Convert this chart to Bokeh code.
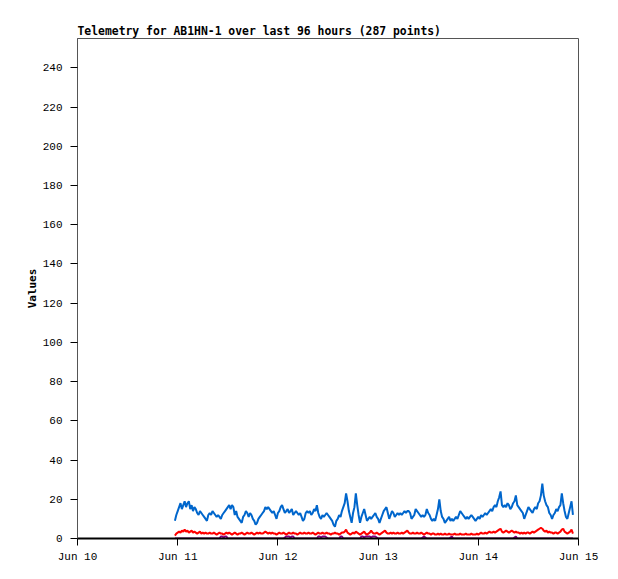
from datetime import datetime, timedelta
from bokeh.plotting import figure
from bokeh.models import FixedTicker, DatetimeTickFormatter, Range1d
from bokeh.embed import file_html
from bokeh.resources import INLINE

title_text = "Telemetry for AB1HN-1 over last 96 hours (287 points)"
y_label = "Values"
start_time = datetime(2024, 6, 10, 23, 20)
step_minutes = 20
n_points = 287

blue_values = [
    9, 12, 14, 16, 18, 15, 17, 19, 16, 18, 19, 15,
    17, 14, 16, 15, 13, 12, 14, 13, 12, 11, 10, 9,
    12, 13, 12, 14, 13, 12, 11, 12, 11, 10, 12, 13,
    14, 15, 16, 17, 15, 17, 16, 12, 14, 11, 10, 9,
    8, 11, 12, 14, 13, 11, 13, 12, 10, 9, 7, 8,
    10, 11, 12, 13, 14, 16, 15, 16, 15, 14, 13, 14,
    12, 10, 13, 14, 16, 17, 15, 13, 14, 15, 13, 14,
    15, 12, 13, 14, 13, 12, 13, 11, 9, 10, 13, 14,
    13, 14, 12, 13, 15, 14, 17, 13, 11, 10, 12, 11,
    12, 13, 12, 11, 10, 9, 7, 6, 9, 10, 12, 11,
    14, 16, 18, 23, 19, 14, 11, 8, 13, 16, 23, 17,
    12, 8, 11, 13, 15, 12, 9, 10, 11, 10, 11, 12,
    13, 11, 10, 8, 10, 12, 14, 15, 16, 13, 10, 12,
    14, 13, 11, 12, 13, 12, 13, 12, 13, 14, 13, 14,
    14, 13, 10, 11, 12, 15, 14, 13, 12, 11, 12, 11,
    12, 15, 13, 12, 10, 9, 10, 9, 12, 15, 20, 14,
    11, 10, 8, 9, 10, 11, 9, 10, 9, 10, 11, 10,
    12, 14, 13, 12, 11, 10, 11, 10, 11, 12, 11, 10,
    9, 10, 11, 10, 12, 11, 12, 13, 12, 13, 14, 15,
    14, 16, 17, 16, 19, 21, 24, 17, 16, 17, 16, 18,
    17, 15, 16, 18, 19, 22, 17, 16, 15, 14, 13, 10,
    12, 14, 16, 15, 14, 13, 15, 16, 15, 18, 19, 22,
    28, 22, 19, 17, 16, 13, 12, 10, 12, 13, 15, 14,
    16, 17, 23, 18, 14, 11, 10, 13, 16, 19, 12,
]

red_values = [
    1.5, 2.5, 3, 3.5, 3, 4, 3.5, 4.5, 3.5, 4, 3, 3.5,
    4, 3, 3.5, 3, 2.5, 3, 3.5, 2.5, 3, 2.5, 3, 2.5,
    2.5, 3, 2.5, 2.5, 3, 2.5, 2, 2.5, 3, 2.5, 2.5, 2,
    2.5, 3, 2.5, 3, 2.5, 2, 2.5, 3, 2.5, 2, 2.5, 2.5,
    3, 2.5, 2, 2.5, 3, 2.5, 2.5, 3, 2.5, 2, 2.5, 3,
    2.5, 3, 2.5, 2.5, 3, 3.5, 3, 2.5, 3, 2.5, 3, 2.5,
    2.5, 2, 2.5, 3, 2.5, 2.5, 3, 2.5, 2, 2.5, 3, 2.5,
    2.5, 3, 2.5, 2.5, 2, 2.5, 3, 2.5, 2.5, 3, 2.5, 2.5,
    3, 2.5, 2.5, 3, 2.5, 2, 2.5, 3, 2.5, 2.5, 3, 2.5,
    2.5, 3, 2.5, 2.5, 2, 2.5, 2.5, 3, 2.5, 2.5, 2, 2.5,
    3, 3, 3.5, 4.5, 3, 2.5, 2, 2.5, 3, 2.5, 3.5, 3,
    2.5, 2, 2.5, 3, 3.5, 2.5, 2, 2.5, 3, 4, 3, 2.5,
    2.5, 3, 2.5, 2, 2.5, 3, 3.5, 4, 3, 2.5, 2.5, 3,
    2.5, 3, 2.5, 2.5, 3, 2.5, 2.5, 3, 2.5, 3, 3.5, 4,
    3, 2.5, 2.5, 3, 2.5, 2.5, 3, 2.5, 2.5, 3, 2.5, 2,
    2.5, 3, 2.5, 2.5, 2, 2.5, 2.5, 2, 2, 2.5, 2, 2.5,
    2, 2, 2.5, 2, 2, 2.5, 2, 2, 2, 2.5, 2, 2,
    2, 2.5, 2, 2, 2, 2.5, 2, 2, 2, 2.5, 2, 2,
    2, 2.5, 2, 2.5, 3, 2.5, 2.5, 3, 2.5, 3, 3.5, 3,
    3, 3.5, 3, 3.5, 4, 4.5, 5, 3.5, 3, 3.5, 4, 3.5,
    3, 3.5, 4, 3.5, 3, 3.5, 3, 3, 2.5, 3, 2.5, 3,
    2.5, 3, 3, 2.5, 3, 3.5, 3, 3.5, 4, 4.5, 5, 5.5,
    5, 4, 3.5, 4, 3, 3.5, 3, 3, 2.5, 3, 3, 2.5,
    3, 3.5, 4.5, 5, 3.5, 3, 2.5, 3, 3.5, 4.5, 2.5,
]

purple_values = [
    0, 0, 0, 0, 0, 0, 0, 0, 0, 0, 0, 0,
    0, 0, 0, 0, 0, 0, 0, 0, 0, 0, 0, 0,
    0, 0, 0, 0, 0, 0, 0, 0, 0, 1, 1, 0.5,
    1, 1, 0, 0, 0, 0, 0, 0, 0, 0, 0, 0,
    0, 0, 0, 0, 0, 0, 0, 0, 0, 0, 0, 0,
    0, 0, 0, 0, 0, 0, 0, 0, 0, 0, 0, 0,
    0, 0, 0, 0, 0, 0, 0, 0.5, 1, 1, 1, 0.5,
    1, 1, 0, 0, 0, 0, 0, 0, 0, 0, 0, 0,
    0, 0, 0, 0, 0, 0, 0, 1, 1, 0.5, 1, 1,
    1, 0.5, 0, 0, 0, 0, 0, 0, 0, 0, 0, 1,
    1, 0, 0, 0, 0, 0, 0, 0, 0, 0, 0, 0,
    0, 0, 1, 1, 0.5, 1, 1, 1, 1, 0.5, 1, 1,
    1, 0.5, 0, 0, 0, 0, 0, 0, 0, 0, 0, 0,
    0, 0, 0, 0, 0, 0, 0, 0, 0, 0, 0, 0,
    0, 0, 0, 0, 0, 0, 0, 0, 0, 0, 0.5, 1,
    0.5, 0, 0, 0, 0, 0, 0, 0, 0, 0, 0, 0,
    0, 0, 0, 0, 0, 0, 0.5, 1, 0, 0, 0, 0,
    0, 0, 0, 0, 0, 0, 0, 0, 0, 0, 0, 0,
    0, 0, 0, 0, 0, 0, 0, 0, 0, 0, 0, 0,
    0, 0, 0, 0, 0, 0, 0, 0, 0, 0, 0, 0,
    0, 0, 0, 0, 0.5, 1, 0, 0, 0, 0, 0, 0,
    0, 0, 0, 0, 0, 0, 0, 0, 0, 0, 0, 0,
    0, 0, 0, 0, 0, 0, 0, 0, 0, 0, 0, 0,
    0, 0, 0, 0, 0, 0, 0, 0, 0, 0, 0,
]

x_tick_dates = [datetime(2024, 6, d) for d in (10, 11, 12, 13, 14, 15)]
y_ticks = list(range(0, 241, 20))

times = [start_time + timedelta(minutes=step_minutes * i) for i in range(n_points)]

p = figure(width=610, height=571, output_backend="svg", toolbar_location=None,
           x_axis_type="datetime",
           x_range=Range1d(x_tick_dates[0], x_tick_dates[-1]),
           y_range=Range1d(0, 255),
           title=title_text,
           min_border_left=77, min_border_right=32, min_border_top=38, min_border_bottom=33)

p.title.text_font = "DejaVu Sans Mono"
p.title.text_font_style = "bold"
p.title.text_font_size = "11.4px"
p.title.text_color = "black"
p.title.align = "left"
p.title.standoff = 2
p.title.offset = 0

p.xgrid.visible = False
p.ygrid.visible = False
p.outline_line_color = "#555555"
p.outline_line_width = 1
p.background_fill_color = "white"
p.border_fill_color = "white"

p.line(times, purple_values, line_color="#800080", line_width=2)
p.line(times, red_values, line_color="#ff0000", line_width=2)
p.line(times, blue_values, line_color="#0066cc", line_width=2)

p.xaxis.ticker = FixedTicker(ticks=[d.timestamp() * 1000 for d in x_tick_dates])
p.xaxis.formatter = DatetimeTickFormatter(days="%b %d", months="%b %d", hours="%b %d")
p.yaxis.ticker = FixedTicker(ticks=y_ticks)

for ax in (p.xaxis[0], p.yaxis[0]):
    ax.minor_tick_line_color = None
    ax.major_tick_in = 0
    ax.major_tick_out = 7
    ax.major_tick_line_color = "black"
    ax.major_label_text_font = "Liberation Mono"
    ax.major_label_text_font_size = "11px"
    ax.major_label_text_color = "black"

p.xaxis.axis_line_color = "black"
p.xaxis.axis_line_width = 2
p.yaxis.axis_line_color = "#555555"
p.xaxis.major_label_standoff = 5
p.yaxis.major_label_standoff = 8

p.yaxis.axis_label = y_label
p.yaxis.axis_label_text_font = "DejaVu Sans Mono"
p.yaxis.axis_label_text_font_style = "bold"
p.yaxis.axis_label_text_font_size = "11px"
p.yaxis.axis_label_text_color = "black"
p.yaxis.axis_label_standoff = 1

open("out.html", "w").write(file_html(p, INLINE))
